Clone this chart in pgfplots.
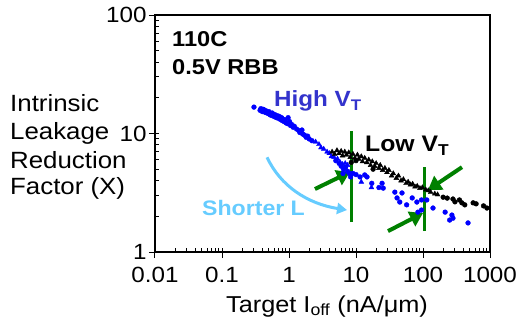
\documentclass[border=0pt]{standalone}
\usepackage{fontspec}
\setmainfont[FakeStretch=1.1]{Liberation Sans}
\usepackage{pgfplots}
\pgfplotsset{compat=1.18}
\usetikzlibrary{arrows.meta}
\definecolor{hiblue}{RGB}{0,0,255}
\definecolor{labblue}{RGB}{51,51,204}
\definecolor{lightblue}{RGB}{102,204,255}
\definecolor{dgreen}{RGB}{0,128,0}
\begin{document}
\begin{tikzpicture}
\useasboundingbox (0,0) rectangle (527pt,335pt);
\begin{axis}[
  at={(155pt,83pt)}, anchor=south west,
  width=335pt, height=237pt, scale only axis,
  xmode=log, ymode=log,
  xmin=0.01, xmax=1000, ymin=1, ymax=100,
  xtick={0.01,0.1,1,10,100,1000},
  xticklabels={0.01,0.1,1,10,100,1000},
  ytick={1,10,100}, yticklabels={1,10,100},
  tick pos=left,
  tick align=inside,
  major tick length=6pt, minor tick length=4.5pt,
  major x tick style={yshift=-6pt},
  major y tick style={xshift=-6pt},
  every tick/.style={black, line width=1pt},
  axis line style={line width=1.6pt},
  tick label style={font=\fontsize{22}{24}\selectfont},
  xticklabel style={yshift=-12pt},
  yticklabel style={xshift=-5pt},
  clip=false,
]
% High VT, circles
\addplot[only marks, mark=*, mark size=2.4pt, color=hiblue] coordinates {
(0.30,16.7) (0.37,15.7) (0.38,16.2) (0.40,15.3) (0.41,16.0) (0.42,15.9) (0.44,15.1)
(0.45,15.6) (0.46,15.0) (0.48,14.8) (0.50,15.3) (0.51,14.6) (0.52,14.4) (0.55,14.2) (0.56,14.9)
(0.58,14.6) (0.60,13.9) (0.62,14.4) (0.63,13.8) (0.65,13.6) (0.68,14.1) (0.70,13.4)
(0.72,13.9) (0.75,13.1) (0.77,13.6) (0.78,13.5) (0.80,12.8) (0.82,13.2) (0.85,12.6) (0.88,13.0)
(0.90,12.3) (0.95,12.1) (0.97,13.6) (1.00,12.2) (1.02,12.6) (1.05,11.7) (1.10,11.9)
(1.15,11.3) (1.20,11.5) (1.30,10.9) (1.40,10.6) (1.45,10.2) (1.56,10.7)
(1.60,9.9) (1.70,9.7) (1.80,9.3) (1.90,9.5) (2.00,9.0) (2.20,8.7)
(5.0,5.9) (5.6,5.6) (6.0,5.3) (6.5,5.0) (7.0,5.2) (7.5,4.8) (8.0,4.6)
(6.4,4.6) (8.3,4.3) (9.0,4.6) (10.0,4.5) (11.5,4.3) (13.5,4.47) (14.6,4.3)
(17.2,3.8) (22,3.5) (24.5,3.8) (25.5,3.46) (38,3.2) (48.6,3.15) (41,2.86)
(45,2.64) (57,2.5) (69,2.86) (81,2.64) (95,2.75) (114,2.75) (84,2.17)
(95,2.26) (141,2.35) (214,2.17) (270,2.05) (250,1.86) (280,1.93) (470,1.76)
};
% High VT, triangles
\addplot[only marks, mark=triangle*, mark size=2.8pt, color=hiblue] coordinates {
(2.5,8.5) (2.8,8.1) (3.0,7.6) (3.3,7.4) (3.7,7.0) (4.0,6.8) (4.3,6.4)
(4.7,6.3) (5.3,6.1) (5.8,5.7) (6.3,5.5) (6.9,5.6) (7.5,5.4) (12.0,3.9) (17.0,3.5)
};
% Low VT, triangles
\addplot[only marks, mark=triangle*, mark size=2.8pt, color=black] coordinates {
(4.4,7.0) (4.8,6.7) (5.2,7.2) (5.6,6.8) (6.0,7.1) (6.3,6.5) (6.8,7.0)
(7.2,6.6) (7.8,6.9) (8.2,6.3) (9.0,6.7) (9.6,6.2) (10.5,6.6) (11,6.1)
(12,6.4) (12.5,5.8) (13.5,6.2) (14.5,5.7) (15.5,6.0) (16.5,5.4) (17.5,5.8)
(19,5.3) (20,5.6) (22,5.1) (23,5.4) (25,4.9) (27,5.1) (29,4.7) (31,4.9)
(34,4.4) (36,4.6) (40,4.2) (43,4.4) (47,4.0) (51,4.1) (56,3.8) (60,3.9)
(65,3.7) (70,3.75) (76,3.55) (82,3.6) (90,3.45) (98,3.5) (110,3.35)
(120,3.3) (130,3.2) (150,3.1) (165,3.05)
};
% Low VT, circles
\addplot[only marks, mark=*, mark size=2.4pt, color=black] coordinates {
(8.5,5.7) (10,5.9) (18,5.0) (200,2.9) (230,2.85) (280,2.8) (300,2.65)
(350,2.75) (380,2.6) (420,2.5) (560,2.6) (620,2.55) (800,2.45) (900,2.35)
};
% green markers
\draw[dgreen, line width=3pt] (axis cs:8.6,1.79) -- (axis cs:8.6,10.5);
\draw[dgreen, line width=3pt] (axis cs:107,1.5) -- (axis cs:107,5.2);
\draw[dgreen, line width=4pt, -{Triangle[length=13pt,width=16pt]}] (axis cs:2.44,3.4) -- (axis cs:8.1,4.73);
\draw[dgreen, line width=4pt, -{Triangle[length=13pt,width=16pt]}] (axis cs:382,5.2) -- (axis cs:119,3.34);
\draw[dgreen, line width=4pt, -{Triangle[length=13pt,width=16pt]}] (axis cs:30,1.5) -- (axis cs:100,2.13);
% shorter L arrow
\draw[lightblue, line width=3pt, -{Triangle[length=10pt,width=11pt]}] (axis cs:0.47,6.3) .. controls (axis cs:0.74,3.63) and (axis cs:1.86,2.56) .. (axis cs:7.35,2.26);
\end{axis}
% annotations
\node[anchor=base west, inner sep=0pt, font=\fontsize{21.5}{24}\selectfont\bfseries] at (172pt,288pt) {110C};
\node[anchor=base west, inner sep=0pt, font=\fontsize{21.5}{24}\selectfont\bfseries] at (172pt,260pt) {0.5V RBB};
\node[anchor=base west, inner sep=0pt, text=labblue, font=\fontsize{22}{24}\selectfont\bfseries] at (274pt,228pt) {High V\textsubscript{T}};
\node[anchor=base west, inner sep=0pt, font=\fontsize{22.5}{24}\selectfont\bfseries] at (365pt,183pt) {Low V\textsubscript{T}};
\node[anchor=base west, inner sep=0pt, text=lightblue, font=\fontsize{21}{24}\selectfont\bfseries] at (202pt,120pt) {Shorter L};
% axis labels
\node[anchor=base, inner sep=0pt, font=\fontsize{23}{26}\selectfont] at (327pt,23pt) {Target I\textsubscript{off} (nA/μm)};
\node[anchor=base west, inner sep=0pt, font=\fontsize{23.5}{26}\selectfont] at (10pt,223.3pt) {Intrinsic};
\node[anchor=base west, inner sep=0pt, font=\fontsize{23.5}{26}\selectfont] at (10pt,195pt) {Leakage};
\node[anchor=base west, inner sep=0pt, font=\fontsize{23.5}{26}\selectfont] at (10pt,167pt) {Reduction};
\node[anchor=base west, inner sep=0pt, font=\fontsize{23.5}{26}\selectfont] at (10pt,140pt) {Factor (X)};
\end{tikzpicture}
\end{document}
